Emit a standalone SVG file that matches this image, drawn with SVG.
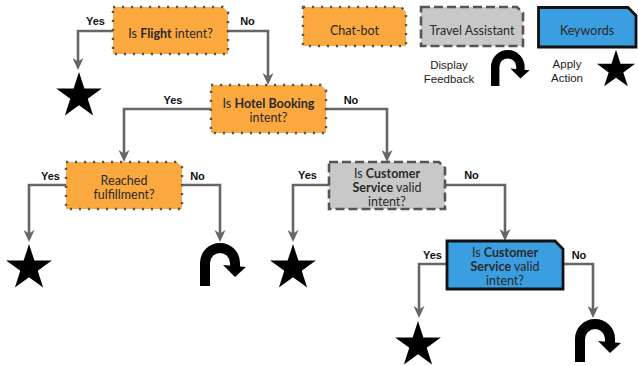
<svg xmlns="http://www.w3.org/2000/svg" xmlns:xlink="http://www.w3.org/1999/xlink" width="638" height="366" viewBox="0 0 638 366">
<style>
.box{stroke-width:2.4}
.orange{fill:#FBA83F;stroke:#555;stroke-dasharray:2.2 6.8}
.gray{fill:#C8C8C8;stroke:#555;stroke-dasharray:9 4;stroke-width:2.6}
.blue{fill:#3A9EE0;stroke:#111;stroke-width:2.8}
.t{font-family:Lato,"Liberation Sans",sans-serif;font-size:12.5px;fill:#2a2a2a;text-anchor:middle}
.b{font-weight:bold}
.lbl{font-family:"Liberation Sans",Arial,sans-serif;font-size:11px;font-weight:bold;fill:#111;text-anchor:middle}
.leg{font-family:"Liberation Sans",Arial,sans-serif;font-size:11.5px;fill:#222;text-anchor:middle}
.conn path{fill:none;stroke:#666;stroke-width:2.6;marker-end:url(#arr)}
</style>
<defs>
<marker id="arr" markerUnits="userSpaceOnUse" viewBox="0 0 12 11" markerWidth="12" markerHeight="11" refX="8" refY="5.5" orient="auto">
<path d="M0,0 L12,5.5 L0,11 L3.5,5.5 z" fill="#666"/>
</marker>
<polygon id="star" points="0,-24 5.39,-7.42 22.83,-7.42 8.72,2.83 14.11,19.42 0,9.17 -14.11,19.42 -8.72,2.83 -22.83,-7.42 -5.39,-7.42" fill="#000"/>
<g id="uturn">
<path d="M5,43 V20 A15,15 0 0 1 35,20 V24" fill="none" stroke="#000" stroke-width="10"/>
<polygon points="23,22 46,24 35,34" fill="#000"/>
</g>
</defs>

<g id="connectors" class="conn">
<path d="M113,31 H78 V66"/>
<path d="M228,31 H268 V81"/>
<path d="M211,109 H124 V158"/>
<path d="M326,109 H387 V158"/>
<path d="M66,185 H29 V238"/>
<path d="M182,185 H220 V238"/>
<path d="M329,185 H293 V238"/>
<path d="M445,185 H505 V237"/>
<path d="M447,264 H419 V314"/>
<path d="M563,264 H593 V314"/>
</g>

<g id="labels">
<text class="lbl" x="95.5" y="25">Yes</text>
<text class="lbl" x="247.5" y="25">No</text>
<text class="lbl" x="173" y="104">Yes</text>
<text class="lbl" x="351" y="104">No</text>
<text class="lbl" x="50.5" y="180">Yes</text>
<text class="lbl" x="197.5" y="180">No</text>
<text class="lbl" x="307.5" y="179">Yes</text>
<text class="lbl" x="471.5" y="179">No</text>
<text class="lbl" x="432.5" y="259">Yes</text>
<text class="lbl" x="579" y="259">No</text>
</g>

<g id="node-flight">
<path class="box orange" d="M113,7 H223 L228,12 V54 H113 Z"/>
<text class="t" x="170.5" y="38">Is <tspan class="b">Flight</tspan> intent?</text>
</g>
<g id="node-hotel">
<path class="box orange" d="M211,85 H321 L326,90 V133 H211 Z"/>
<text class="t" x="268.5" y="108">Is <tspan class="b">Hotel Booking</tspan></text>
<text class="t" x="268.5" y="122">intent?</text>
</g>
<g id="node-fulfillment">
<path class="box orange" d="M66,162 H177 L182,167 V209 H66 Z"/>
<text class="t" x="124" y="185">Reached</text>
<text class="t" x="124" y="199">fulfillment?</text>
</g>
<g id="node-cs-gray">
<path class="box gray" d="M329,162 H439 L445,168 V209 H329 Z"/>
<text class="t" x="387" y="178">Is <tspan class="b">Customer</tspan></text>
<text class="t" x="387" y="192"><tspan class="b">Service</tspan> valid</text>
<text class="t" x="387" y="206">intent?</text>
</g>
<g id="node-cs-blue">
<path class="box blue" d="M447,241 H555 L563,249 V289 H447 Z"/>
<text class="t" x="505" y="257">Is <tspan class="b">Customer</tspan></text>
<text class="t" x="505" y="271"><tspan class="b">Service</tspan> valid</text>
<text class="t" x="505" y="285">intent?</text>
</g>

<g id="end-flight-yes"><use xlink:href="#star" transform="translate(79,96)"/></g>
<g id="end-fulfillment-yes"><use xlink:href="#star" transform="translate(29,268)"/></g>
<g id="end-fulfillment-no"><use xlink:href="#uturn" transform="translate(200,243)"/></g>
<g id="end-cs-gray-yes"><use xlink:href="#star" transform="translate(293,268)"/></g>
<g id="end-cs-blue-yes"><use xlink:href="#star" transform="translate(418,345)"/></g>
<g id="end-cs-blue-no"><use xlink:href="#uturn" transform="translate(575,319)"/></g>

<g id="legend-chatbot">
<path class="box orange" d="M303,7 H401 L406,12 V46 H303 Z"/>
<text class="t" x="354.5" y="35">Chat-bot</text>
</g>
<g id="legend-travel">
<path class="box gray" d="M421,7 H517 L523,13 V46 H421 Z"/>
<text class="t" x="472" y="35">Travel Assistant</text>
</g>
<g id="legend-keywords">
<path class="box blue" d="M538.5,7.5 H628 L636,15.5 V47 H538.5 Z"/>
<text class="t" x="587" y="35">Keywords</text>
</g>
<g id="legend-feedback">
<text class="leg" x="449" y="69">Display</text>
<text class="leg" x="449" y="83">Feedback</text>
<use xlink:href="#uturn" transform="translate(491,50) scale(0.84)"/>
</g>
<g id="legend-action">
<text class="leg" x="567" y="68">Apply</text>
<text class="leg" x="567" y="82">Action</text>
<use xlink:href="#star" transform="translate(616,70) scale(0.84)"/>
</g>
</svg>
